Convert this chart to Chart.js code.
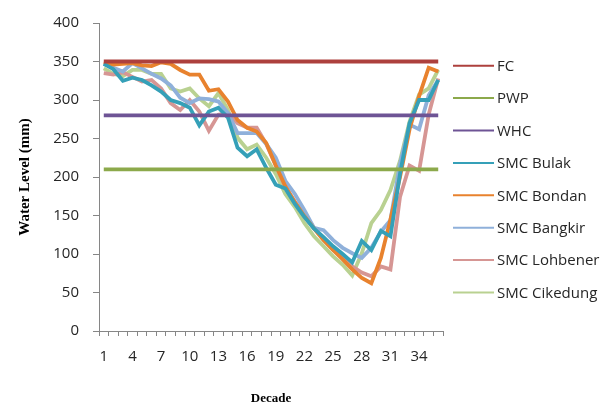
<!DOCTYPE html>
<html>
<head>
<meta charset="utf-8">
<script src="https://cdn.jsdelivr.net/npm/chart.js@4.4.1/dist/chart.umd.min.js"></script>
<style>
html,body{margin:0;padding:0;background:#fff;}
#wrap{width:603px;height:407px;position:relative;}
</style>
</head>
<body>
<div id="wrap"><canvas id="c" width="603" height="407"></canvas></div>
<script>
const decades = Array.from({length:36},(_,i)=>String(i+1));
const fc  = Array(36).fill(350);
const pwp = Array(36).fill(210);
const whc = Array(36).fill(280);
const smcBulak    = [347,340,325,329,326,319,311,300,296,290,267,285,290,277,238,227,236,212,190,185,165,148,133,122,110,100,89,117,105,130,123,204,270,300,300,326];
const smcBondan   = [349,346,347,348,345,344,349,347,339,333,333,312,314,298,274,264,259,244,215,188,167,149,133,118,105,93,80,69,62,95,145,200,262,305,342,337];
const smcBangkir  = [347,342,337,348,341,334,328,319,303,296,302,301,298,283,257,257,257,243,225,195,178,157,134,131,118,108,101,95,108,129,144,217,268,262,306,326];
const smcLohbener = [335,333,336,330,324,326,315,296,287,300,285,260,281,283,270,264,264,243,215,187,168,151,134,119,106,95,84,76,71,84,80,174,215,208,281,328];
const smcCikedung = [341,334,331,339,339,334,334,315,311,315,302,292,309,287,251,236,242,225,204,178,161,140,123,110,97,86,72,101,140,157,183,221,272,307,315,339];
const seriesNames = ['FC','PWP','WHC','SMC Bulak','SMC Bondan','SMC Bangkir','SMC Lohbener','SMC Cikedung'];
const seriesColors = ['#AD403D','#8CA94B','#6E5495','#35A0B8','#E8822E','#8FB0DA','#D69694','#B9D191'];
const seriesData = [fc,pwp,whc,smcBulak,smcBondan,smcBangkir,smcLohbener,smcCikedung];
const yTicks = [0,50,100,150,200,250,300,350,400];

const legendPlugin = {
  id:'customLegend',
  afterDraw(chart){
    const ctx = chart.ctx;
    ctx.save();
    chart.data.datasets.forEach((ds,i)=>{
      const y = 65.7 + i*32.4;
      ctx.strokeStyle = ds.borderColor;
      ctx.lineWidth = 2;
      ctx.beginPath();
      ctx.moveTo(453,y);
      ctx.lineTo(494,y);
      ctx.stroke();
      ctx.fillStyle = '#262626';
      ctx.font = '15px "Open Sans"';
      ctx.textBaseline = 'middle';
      ctx.textAlign = 'left';
      ctx.fillText(ds.label, 497, y+1);
    });
    ctx.restore();
  }
};

new Chart(document.getElementById('c'),{
  type:'line',
  data:{
    labels: decades,
    datasets: seriesNames.map((n,i)=>({
      label:n,
      data:seriesData[i],
      borderColor:seriesColors[i],
      backgroundColor:seriesColors[i],
      borderWidth:3.8,
      pointRadius:0,
      tension:0,
      fill:false
    }))
  },
  options:{
    responsive:false,
    animation:false,
    devicePixelRatio:1,
    layout:{padding:{left:0,top:20,right:160,bottom:0}},
    plugins:{legend:{display:false},tooltip:{enabled:false}},
    scales:{
      x:{
        offset:true,
        grid:{offset:true,drawOnChartArea:false,drawTicks:true,tickLength:5,color:'#868686'},
        border:{color:'#868686',width:1},
        ticks:{autoSkip:false,maxRotation:0,padding:12,color:'#262626',font:{family:'Open Sans',size:15},
          callback:function(v,i){return i%3===0?decades[i]:'';}},
        title:{display:true,text:'Decade',color:'#000',font:{family:'Liberation Serif',size:13,weight:'bold'},padding:{top:0,bottom:1}},
        afterFit:function(s){s.height=76;}
      },
      y:{
        min:0,max:400,
        afterBuildTicks:function(s){s.ticks=yTicks.map(v=>({value:v}));},
        grid:{drawOnChartArea:false,drawTicks:true,tickLength:6,color:'#868686'},
        border:{color:'#868686',width:1},
        ticks:{padding:14,color:'#262626',font:{family:'Open Sans',size:15}},
        title:{display:true,text:'Water Level (mm)',color:'#000',font:{family:'Liberation Serif',size:15,weight:'bold'},padding:{top:16,bottom:0}},
        afterFit:function(s){s.width=99;}
      }
    }
  },
  plugins:[legendPlugin]
});
</script>
</body>
</html>
